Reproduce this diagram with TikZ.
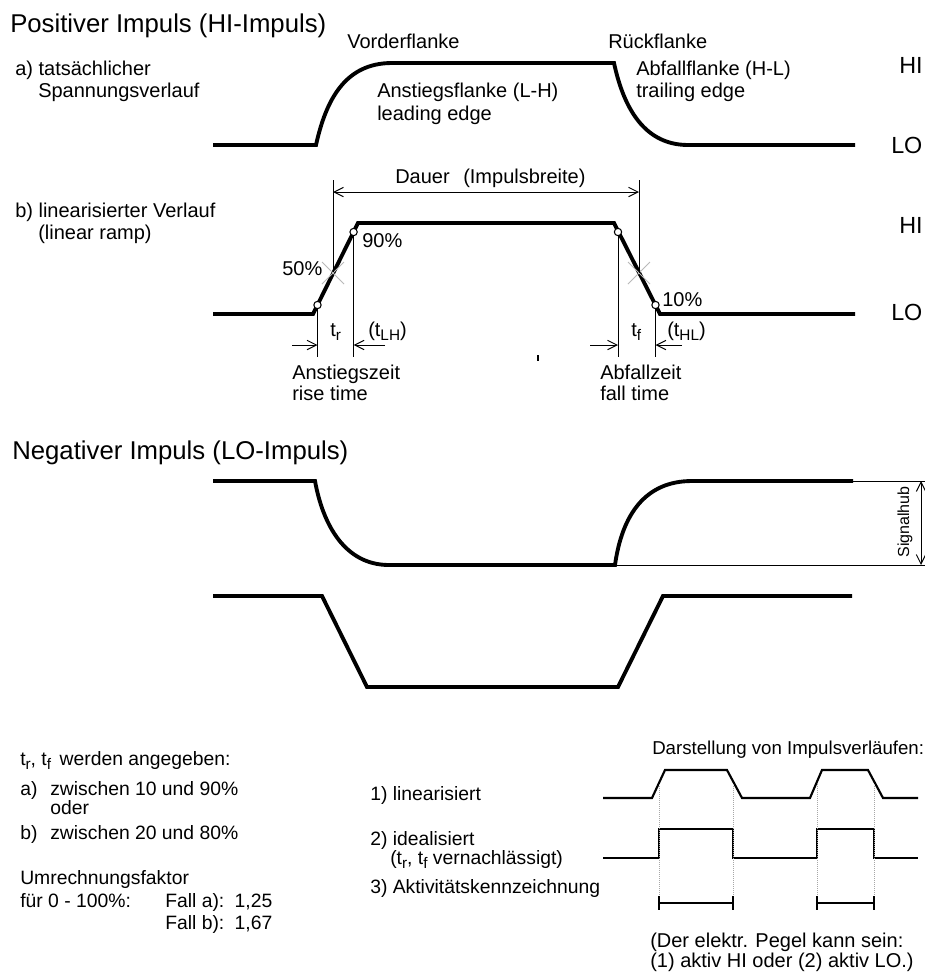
\documentclass[tikz,border=0pt]{standalone}
\usepackage{fontspec}
\setmainfont{Liberation Sans}
\usetikzlibrary{arrows.meta}
\newcommand\lowidx[1]{\raisebox{-0.4ex}{\fontsize{11.5}{12}\selectfont #1}}
\begin{document}
\begin{tikzpicture}[x=0.75pt,y=-0.75pt,
  txt/.style={inner sep=0pt,anchor=base west,font=\fontsize{15}{18}\selectfont},
  note/.style={inner sep=0pt,anchor=base west,font=\fontsize{14.5}{17}\selectfont},
  smalltxt/.style={inner sep=0pt,anchor=base west,font=\fontsize{14}{16}\selectfont},
  ttl/.style={inner sep=0pt,anchor=base west,font=\fontsize{19.3}{22}\selectfont},
  lvl/.style={inner sep=0pt,anchor=base west,font=\fontsize{17.5}{20}\selectfont},
  wave/.style={line width=2.9pt,line join=miter},
  smallwave/.style={line width=1.6pt},
  thin/.style={line width=0.75pt},
  dim/.style={thin,-{Straight Barb[length=7pt,width=7pt]}},
  dimboth/.style={thin,{Straight Barb[length=7pt,width=7pt]}-{Straight Barb[length=7pt,width=7pt]}},
  cross/.style={gray!55,line width=0.6pt},
  ring/.style={draw,line width=0.8pt,fill=white,circle,inner sep=0pt,minimum size=5.5pt},
  guide/.style={gray!70,line width=0.5pt,densely dotted}]
\useasboundingbox (0,0) rectangle (925,972);
\fill[white] (0,0) rectangle (925,972);

% ---------------- positive pulse, real voltage curve ----------------
\node[ttl] (t1) at (10,32) {Positiver Impuls (HI-Impuls)};
\node[txt] (a1) at (15,75) {a) tatsächlicher};
\node[txt] (a2) at (38,97) {Spannungsverlauf};
\node[txt] (vf) at (347,48) {Vorderflanke};
\node[txt] (rf) at (608,48) {Rückflanke};
\node[txt] (an1) at (377,97) {Anstiegsflanke (L-H)};
\node[txt] (an2) at (377,120) {leading edge};
\node[txt] (ab1) at (636,75) {Abfallflanke (H-L)};
\node[txt] (ab2) at (636,97) {trailing edge};
\node[lvl] (hi1) at (899,73) {HI};
\node[lvl] (lo1) at (891,153) {LO};
\draw[wave] (213,145) -- (316,145)
  .. controls (326,100) and (345,63) .. (392,63) -- (614,63)
  .. controls (622,100) and (640,145) .. (688,145) -- (855,145);

% ---------------- positive pulse, linear ramp ----------------
\node[txt] (b1) at (15,217) {b) linearisierter Verlauf};
\node[txt] (b2) at (38,239) {(linear ramp)};
\node[lvl] (hi2) at (899,233) {HI};
\node[lvl] (lo2) at (891,320) {LO};
\coordinate (r0) at (313,314);
\coordinate (r1) at (358,223);
\coordinate (f0) at (614,223);
\coordinate (f1) at (660,314);
\draw[wave] (213,314) -- (r0) -- (r1) -- (f0) -- (f1) -- (855,314);

% 50 % marks and pulse width
\draw[cross] (322,262) -- (344,284) (322,284) -- (344,262);
\draw[cross] (628,262) -- (650,284) (628,284) -- (650,262);
\coordinate (d0) at (333,180);
\coordinate (d1) at (639,180);
\draw[thin] (d0) -- (333,272);
\draw[thin] (d1) -- (639,273);
\draw[dimboth] (333,192) -- (639,192);
\node[txt] (dau) at (395,183) {Dauer};
\node[txt] (ib) at (463,183) {(Impulsbreite)};
\node[txt] (p50) at (282,275) {50\%};
\node[txt] (p90) at (362,247) {90\%};
\node[txt] (p10) at (662,306) {10\%};

% rise time
\node[ring] (c10) at (317.5,305) {};
\node[ring] (c90) at (353.6,232) {};
\draw[thin] (c10.south) -- (317.5,357);
\draw[thin] (c90.south) -- (353.6,357);
\coordinate (ra) at (292,345);
\coordinate (rb) at (385,345);
\draw[dim] (ra) -- (317.5,345);
\draw[dim] (rb) -- (353.6,345);
\node[txt] (tr) at (330,336) {t\lowidx{r}};
\node[txt] (tlh) at (368,336) {(t\lowidx{LH})};
\node[txt] (az1) at (292,379) {Anstiegszeit};
\node[txt] (az2) at (292,400) {rise time};

% fall time
\node[ring] (e90) at (618,232) {};
\node[ring] (e10) at (655.5,305) {};
\draw[thin] (e90.south) -- (618,357);
\draw[thin] (e10.south) -- (655.5,357);
\coordinate (fa) at (590,345);
\coordinate (fb) at (682,345);
\draw[dim] (fa) -- (618,345);
\draw[dim] (fb) -- (655.5,345);
\node[txt] (tf) at (631,336) {t\lowidx{f}};
\node[txt] (thl) at (667,336) {(t\lowidx{HL})};
\node[txt] (fz1) at (600,379) {Abfallzeit};
\node[txt] (fz2) at (600,400) {fall time};
\draw[line width=0.9pt] (538,355) -- (538,361);

% ---------------- negative pulse ----------------
\node[ttl] (t2) at (12,459) {Negativer Impuls (LO-Impuls)};
\draw[wave] (213,481) -- (315,481)
  .. controls (323,525) and (345,565) .. (389,565) -- (615,565)
  .. controls (622,515) and (645,481) .. (692,481) -- (853,481);
\draw[thin] (853,481) -- (925,481);
\draw[thin] (615,565) -- (925,565);
\draw[dimboth] (921,481) -- (921,565);
\node[inner sep=0pt,rotate=90,font=\fontsize{12}{14}\selectfont] (sh) at (905,522) {Signalhub};

\draw[wave] (213,596) -- (322,596) -- (367,687) -- (618,687) -- (663,596) -- (852,596);

% ---------------- notes, bottom left ----------------
\node[note] (n1) at (20,765) {t\lowidx{r}, t\lowidx{f}\, werden angegeben:};
\node[note] (n2) at (20,795) {a)};
\node[note] (n2b) at (50,795) {zwischen 10 und 90\%};
\node[note] (n3) at (50,814) {oder};
\node[note] (n4) at (20,839) {b)};
\node[note] (n4b) at (50,839) {zwischen 20 und 80\%};
\node[note] (n5) at (20,884) {Umrechnungsfaktor};
\node[note] (n6) at (20,907) {für 0 - 100\%:};
\node[note] (n7) at (165,907) {Fall a):\, 1,25};
\node[note] (n8) at (165,929) {Fall b):\, 1,67};

% ---------------- representations, bottom right ----------------
\node[note] (m1) at (370,800) {1) linearisiert};
\node[note] (m2) at (370,845) {2) idealisiert};
\node[note] (m3) at (390,864) {(t\lowidx{r}, t\lowidx{f} vernachlässigt)};
\node[note] (m4) at (370,893) {3) Aktivitätskennzeichnung};
\node[smalltxt] (dh) at (652,754) {Darstellung von Impulsverläufen:};

\draw[smallwave] (603,798) -- (652,798) -- (665,770) -- (727,770) -- (742,798)
  -- (810,798) -- (822,770) -- (868,770) -- (883,798) -- (918,798);
\draw[smallwave] (603,858) -- (659,858) -- (659,829) -- (733,829) -- (733,858)
  -- (817,858) -- (817,829) -- (874,829) -- (874,858) -- (918,858);
\foreach \gx in {659,733,817,874} \draw[guide] (\gx,784) -- (\gx,903);
\draw[smallwave] (659,896) -- (659,910) (659,903) -- (733,903) (733,896) -- (733,910);
\draw[smallwave] (817,896) -- (817,910) (817,903) -- (874,903) (874,896) -- (874,910);
\node[txt] (pg1) at (650,947) {(Der elektr. Pegel kann sein:};
\node[txt] (pg2) at (650,967) {(1) aktiv HI oder (2) aktiv LO.)};
\end{tikzpicture}
\end{document}
